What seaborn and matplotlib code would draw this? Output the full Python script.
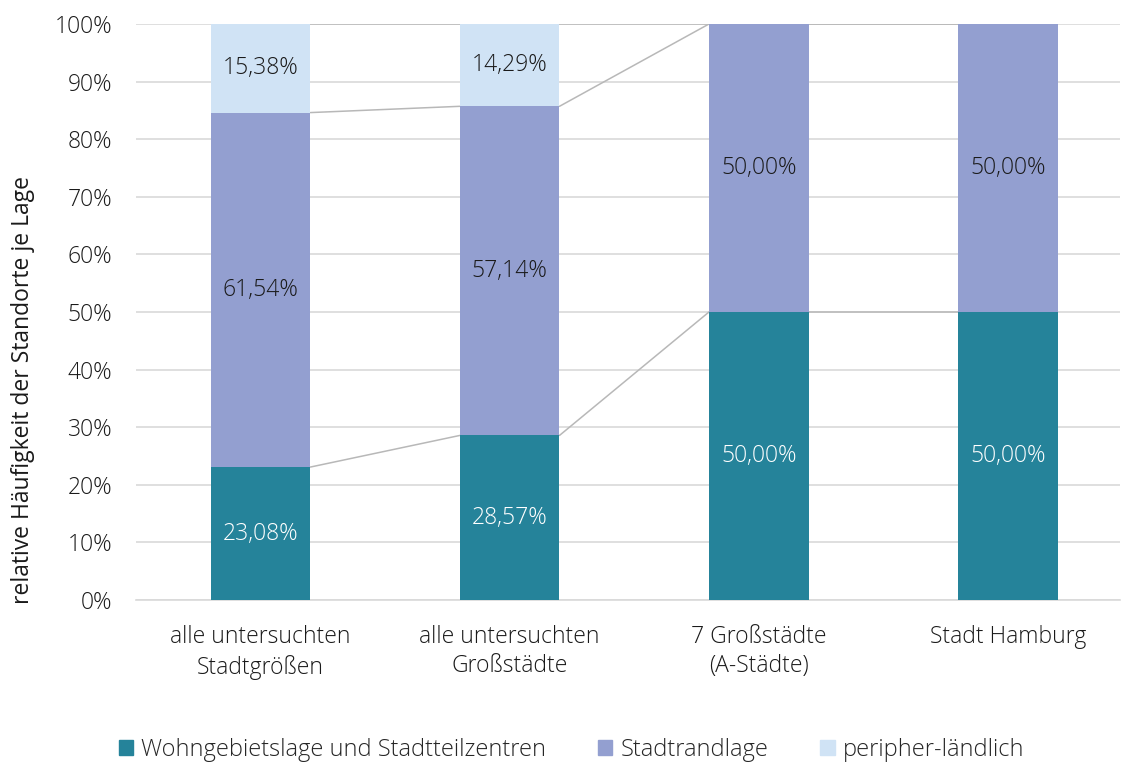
import numpy as np
import pandas as pd
import seaborn as sns
import matplotlib.pyplot as plt
from matplotlib.ticker import PercentFormatter

categories = ["alle untersuchten\nStadtgrößen", "alle untersuchten\nGroßstädte",
              "7 Großstädte\n(A-Städte)", "Stadt Hamburg"]
series = ["Wohngebietslage und Stadtteilzentren", "Stadtrandlage", "peripher-ländlich"]
wohn = [23.08, 28.57, 50.00, 50.00]
rand = [61.54, 57.14, 50.00, 50.00]
peri = [15.38, 14.29, 0.0, 0.0]
colors = ["#25839A", "#939FD0", "#D0E3F5"]
label_colors = ["white", "#1a1a1a", "#1a1a1a"]

sns.set_style("white")
plt.rcParams["font.family"] = ["Open Sans", "DejaVu Sans"]
plt.rcParams["font.weight"] = "light"
fs = 16.5

fig = plt.figure(figsize=(11.23, 7.65), dpi=100)
ax = fig.add_axes([136 / 1123, 1 - 600 / 765, (1120 - 136) / 1123, (600 - 24) / 765])

values = [wohn, rand, peri]
width = 0.4
bottom = np.zeros(len(categories))
for name, vals, col, lc in zip(series, values, colors, label_colors):
    df = pd.DataFrame({"cat": categories, "val": vals})
    sns.barplot(data=df, x="cat", y="val", color=col, width=width, bottom=bottom,
                ax=ax, label=name, saturation=1, linewidth=0, zorder=3)
    for i, v in enumerate(vals):
        if v > 0:
            ax.text(i, bottom[i] + v / 2, f"{v:.2f}%".replace(".", ","),
                    ha="center", va="center", fontsize=fs, color=lc, zorder=5)
    top = bottom + np.array(vals)
    # series lines between neighbouring bars
    for i in range(len(categories) - 1):
        ax.plot([i + width / 2, i + 1 - width / 2], [top[i], top[i + 1]],
                color="#b8b8b8", lw=1.1, zorder=2)
    bottom = top

if ax.get_legend() is not None:
    ax.get_legend().remove()

ax.set_ylim(0, 100)
ax.set_xlim(-0.5, 3.45)
ax.set_yticks(np.arange(0, 101, 10))
ax.yaxis.set_major_formatter(PercentFormatter(decimals=0))
ax.grid(axis="y", color="#d9d9d9", lw=1.2, zorder=0)
for s in ["top", "right", "left"]:
    ax.spines[s].set_visible(False)
ax.spines["bottom"].set_color("#d9d9d9")
ax.spines["bottom"].set_linewidth(1.2)
ax.tick_params(axis="both", length=0, labelsize=fs, colors="#1a1a1a")
ax.tick_params(axis="y", pad=17)
ax.tick_params(axis="x", pad=18)
for t in ax.get_xticklabels():
    t.set_linespacing(1.3)
ax.set_xlabel("")
ax.set_ylabel("relative Häufigkeit der Standorte je Lage", fontsize=fs, color="#1a1a1a")
ax.yaxis.set_label_coords(-0.103, 0.365)

handles = [plt.Rectangle((0, 0), 1, 1, color=c) for c in colors]
fig.legend(handles, series, loc="center", bbox_to_anchor=(0.509, 1 - 750 / 765), ncol=3,
           frameon=False, fontsize=17, handlelength=0.6, handleheight=0.6,
           columnspacing=2.2, handletextpad=0.35)

fig.savefig("out.png", dpi=100)
